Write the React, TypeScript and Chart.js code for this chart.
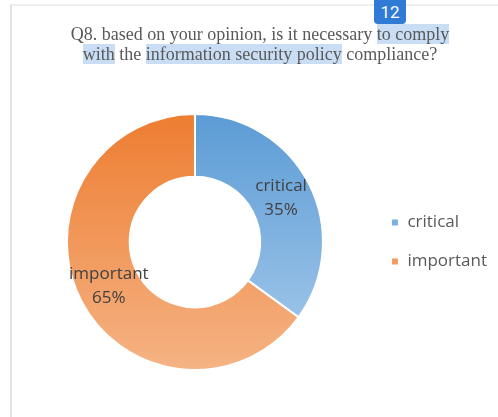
import React, { useEffect, useRef } from 'react';
import { Chart, registerables } from 'chart.js';

Chart.register(...registerables);

const categories: string[] = ['critical', 'important'];
const values: number[] = [35, 65];
const titleLine1: string[] = ['Q8. based on your opinion, is it necessary ', 'to comply'];
const titleLine2: string[] = ['with', ' the ', 'information security policy', ' compliance?'];
const badgeText = '12';

const blueTop = '#5B9BD5';
const blueBottom = '#A9CCEC';
const orangeTop = '#ED7D31';
const orangeBottom = '#F5B384';

const FONT = '"Open Sans", "DejaVu Sans", sans-serif';

const sliceLabels = {
  id: 'sliceLabels',
  afterDatasetsDraw(chart: any) {
    const ctx = chart.ctx;
    const meta = chart.getDatasetMeta(0);
    const total = values.reduce((a, b) => a + b, 0);
    ctx.save();
    ctx.font = '17px ' + FONT;
    ctx.fillStyle = '#404040';
    ctx.textAlign = 'center';
    ctx.textBaseline = 'middle';
    meta.data.forEach((arc: any, i: number) => {
      const p = arc.tooltipPosition();
      ctx.fillText(categories[i], p.x, p.y - 12);
      ctx.fillText(Math.round((values[i] / total) * 100) + '%', p.x, p.y + 12);
    });
    ctx.restore();
  },
};

function grad(chart: any, top: string, bottom: string) {
  const area = chart.chartArea;
  if (!area) return top;
  const g = chart.ctx.createLinearGradient(0, area.top, 0, area.bottom);
  g.addColorStop(0, top);
  g.addColorStop(1, bottom);
  return g;
}

export default function App() {
  const canvasRef = useRef<HTMLCanvasElement | null>(null);

  useEffect(() => {
    if (!canvasRef.current) return;
    const chart = new Chart(canvasRef.current, {
      type: 'doughnut',
      data: {
        labels: categories,
        datasets: [
          {
            data: values,
            backgroundColor: (c: any) =>
              c.dataIndex === 0
                ? grad(c.chart, blueTop, blueBottom)
                : grad(c.chart, orangeTop, orangeBottom),
            borderColor: '#ffffff',
            borderWidth: 2,
          },
        ],
      },
      options: {
        responsive: false,
        animation: false,
        cutout: '51%',
        layout: { padding: { left: 21, right: 1, top: 113, bottom: 46 } },
        plugins: {
          tooltip: { enabled: false },
          title: { display: false },
          legend: {
            position: 'right',
            labels: {
              boxWidth: 8,
              boxHeight: 8,
              padding: 22,
              color: '#595959',
              font: { size: 17, family: FONT },
            },
          },
        },
      },
      plugins: [sliceLabels],
    } as any);
    if ((document as any).fonts && (document as any).fonts.load) {
      (document as any).fonts.load('17px "Open Sans"').then(() => chart.update()).catch(() => {});
    }
    return () => chart.destroy();
  }, []);

  const hl: React.CSSProperties = { background: '#c9def5' };

  return (
    <div
      style={{
        position: 'absolute',
        left: 0,
        top: 0,
        width: 498,
        height: 417,
        overflow: 'hidden',
        background: '#ffffff',
      }}
    >
      <div
        style={{
          position: 'absolute',
          left: 10,
          top: 4,
          right: 0,
          bottom: 0,
          borderLeft: '2px solid #e3e3e3',
          borderTop: '2px solid #eeeeee',
        }}
      />
      <canvas
        ref={canvasRef}
        width={498}
        height={417}
        style={{ position: 'absolute', left: 0, top: 0, width: 498, height: 417 }}
      />
      <div
        style={{
          position: 'absolute',
          left: 22,
          top: 24,
          width: 476,
          textAlign: 'center',
          fontFamily: '"Liberation Serif", "Times New Roman", serif',
          fontSize: 18,
          lineHeight: '20px',
          color: '#595959',
          whiteSpace: 'nowrap',
        }}
      >
        <span>{titleLine1[0]}</span>
        <span style={hl}>{titleLine1[1]}</span>
        <br />
        <span style={hl}>{titleLine2[0]}</span>
        <span>{titleLine2[1]}</span>
        <span style={hl}>{titleLine2[2]}</span>
        <span>{titleLine2[3]}</span>
      </div>
      <div
        style={{
          position: 'absolute',
          left: 374,
          top: 0,
          width: 32,
          height: 24,
          borderRadius: '0 0 4px 4px',
          background: '#2f7bd6',
          color: '#ffffff',
          fontFamily: 'Roboto, "Liberation Sans", sans-serif',
          fontSize: 17,
          lineHeight: '24px',
          textAlign: 'center',
        }}
      >
        {badgeText}
      </div>
    </div>
  );
}
